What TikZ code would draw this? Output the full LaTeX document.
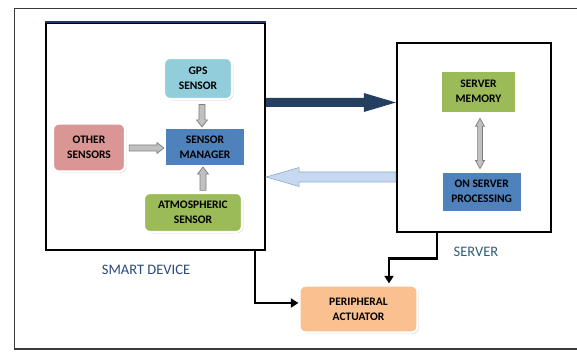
\documentclass[tikz,border=0pt]{standalone}
\usepackage{fontspec}
\setmainfont{Carlito}
\usetikzlibrary{calc,shadows,arrows.meta}
\definecolor{gpsc}{HTML}{92CDDC}
\definecolor{bluec}{HTML}{4F81BD}
\definecolor{pinkc}{HTML}{D99694}
\definecolor{greenc}{HTML}{9BBB59}
\definecolor{orangec}{HTML}{FAC090}
\definecolor{darkarr}{HTML}{243F60}
\definecolor{lightarr}{HTML}{C6D9F1}
\definecolor{lightarrline}{HTML}{8EA9CB}
\definecolor{navyline}{HTML}{1F3864}
\definecolor{sdlabel}{HTML}{2C4A78}
\definecolor{srvlabel}{HTML}{2F5F76}
\definecolor{grayfill}{HTML}{C0C0C0}
\definecolor{grayline}{HTML}{7F7F7F}
\definecolor{framec}{HTML}{3A3A3A}
\newcommand\blockarrow[6]{%
  \coordinate (baA) at (#2);
  \coordinate (baB) at (#3);
  \coordinate (baC) at ($(baB)!#6!(baA)$);
  \path[#1] ($(baA)!#4!90:(baB)$) -- ($(baC)!#4!-90:(baA)$) -- ($(baC)!#5!-90:(baA)$) -- (baB)
    -- ($(baC)!#5!90:(baA)$) -- ($(baC)!#4!90:(baA)$) -- ($(baA)!#4!-90:(baB)$) -- cycle;
}
\newcommand\dblarrow[6]{%
  \coordinate (daA) at (#2);
  \coordinate (daB) at (#3);
  \coordinate (daC) at ($(daA)!#6!(daB)$);
  \coordinate (daD) at ($(daB)!#6!(daA)$);
  \path[#1] (daA) -- ($(daC)!#5!90:(daB)$) -- ($(daC)!#4!90:(daB)$) -- ($(daD)!#4!-90:(daA)$)
    -- ($(daD)!#5!-90:(daA)$) -- (daB) -- ($(daD)!#5!90:(daA)$) -- ($(daD)!#4!90:(daA)$)
    -- ($(daC)!#4!-90:(daB)$) -- ($(daC)!#5!-90:(daB)$) -- cycle;
}
\tikzset{
  box/.style={draw=white, line width=2.2pt, fill=#1, align=center, inner sep=0pt,
    font=\bfseries\fontsize{11.5}{15}\selectfont,
    drop shadow={shadow xshift=1.3pt, shadow yshift=-1.3pt, fill=black!30}},
  rbox/.style={box=#1, rounded corners=6pt},
  frame/.style={draw=black, line width=2.3pt, inner sep=0pt},
  grayarr/.style={fill=grayfill, draw=grayline, line width=0.7pt},
  conn/.style={draw=black, line width=2.7pt, -{Triangle[length=7.5pt,width=9pt]}},
  lbl/.style={font=\fontsize{14.5}{16}\selectfont, inner sep=0pt},
}
\begin{document}
\begin{tikzpicture}[x=1pt,y=-1pt]
\useasboundingbox (0,0) rectangle (577,352);
\fill[white] (0,0) rectangle (577,352);
% outer frame (open at right)
\draw[framec, line width=1.8pt] (577,8.5) -- (14.5,8.5) -- (14.5,349) -- (577,349);

% main containers
\node[frame, minimum width=219pt, minimum height=227pt] (sd) at (155.5,136.5) {};
\draw[navyline, line width=2.3pt] (sd.north west) -- (sd.north east);
\node[frame, minimum width=154pt, minimum height=189pt] (srv) at (474,137.5) {};

% smart device blocks
\node[rbox=gpsc, minimum width=68pt, minimum height=41pt] (gps) at (198,78.5) {GPS\\SENSOR};
\node[box=bluec, minimum width=80pt, minimum height=38pt] (mgr) at (205,147) {SENSOR\\MANAGER};
\node[rbox=pinkc, minimum width=72pt, minimum height=48pt] (oth) at (89,147.5) {OTHER\\SENSORS};
\node[rbox=greenc, minimum width=98pt, minimum height=39pt] (atm) at (193,212.5) {ATMOSPHERIC\\SENSOR};

% server blocks
\node[box=greenc, minimum width=75pt, minimum height=42pt] (mem) at (478.5,91.7) {SERVER\\MEMORY};
\node[box=bluec, minimum width=80pt, minimum height=40pt] (proc) at (481.7,191.7) {ON SERVER\\PROCESSING};

% actuator
\node[rbox=orangec, minimum width=118pt, minimum height=47pt] (act) at (358.5,309) {PERIPHERAL\\ACTUATOR};

% labels
\node[lbl, text=sdlabel] (sdl) at (146,270) {SMART DEVICE};
\node[lbl, text=srvlabel] (srvl) at (476,251.5) {SERVER};

% gray block arrows into the sensor manager
\coordinate (g1) at ([yshift=-4.5pt]gps.south -| 202,0);
\coordinate (g2) at (mgr.north -| 202,0);
\blockarrow{grayarr}{g1}{g2}{3pt}{5.5pt}{7pt}
\coordinate (o1) at ([xshift=3pt]oth.east |- 0,148);
\coordinate (o2) at (mgr.west |- 0,148);
\blockarrow{grayarr}{o1}{o2}{3pt}{5.5pt}{7pt}
\coordinate (a1) at ([yshift=1.5pt]atm.north -| 203,0);
\coordinate (a2) at (mgr.south -| 203,0);
\blockarrow{grayarr}{a1}{a2}{3pt}{5.5pt}{7pt}

% double arrow between server memory and processing
\coordinate (m1) at ([yshift=-4.5pt]mem.south -| 480,0);
\coordinate (m2) at ([yshift=2pt]proc.north -| 480,0);
\dblarrow{grayarr}{m1}{m2}{2.4pt}{4.5pt}{8pt}

% big arrows between smart device and server
\coordinate (d1) at (sd.east |- 0,102.5);
\coordinate (d2) at (srv.west |- 0,102.5);
\blockarrow{fill=darkarr}{d1}{d2}{4.5pt}{9.5pt}{32pt}
\coordinate (l1) at (srv.west |- 0,177);
\coordinate (l2) at (sd.east |- 0,177);
\blockarrow{fill=lightarr, draw=lightarrline, line width=0.6pt}{l1}{l2}{5pt}{9.5pt}{33pt}

% connectors to the actuator
\coordinate (c1) at (sd.south -| 255,0);
\draw[conn] (c1) |- ([yshift=6pt]act.west);
\coordinate (s1) at (srv.south -| 437,0);
\draw[conn] (s1) -- ++(0,25) -| ([xshift=30.5pt,yshift=1pt]act.north);
\end{tikzpicture}
\end{document}
